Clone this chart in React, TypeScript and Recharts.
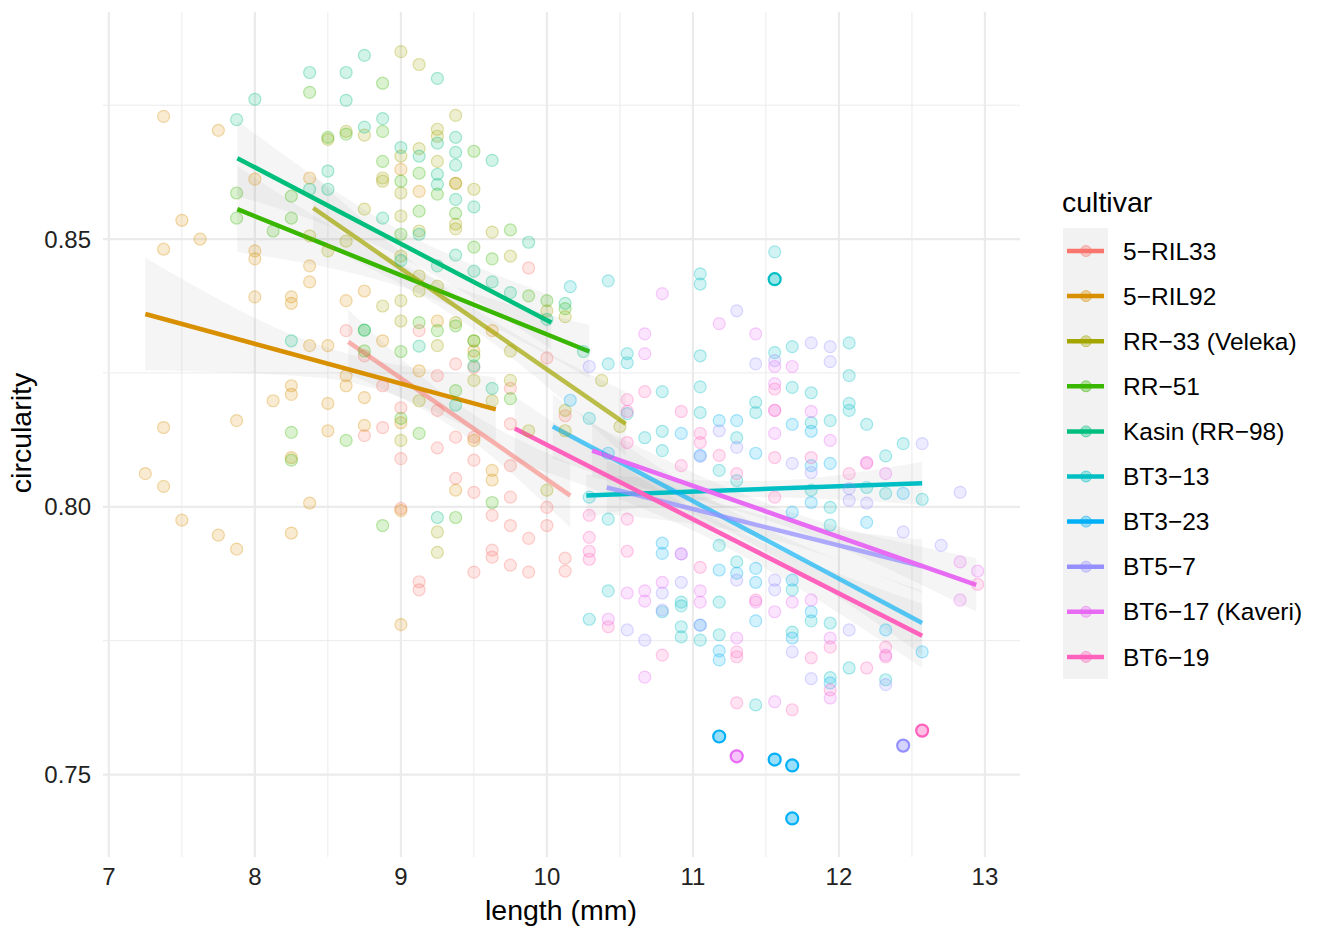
import React from "react";
import { ComposedChart, Scatter, Line, Area, XAxis, YAxis, CartesianGrid } from "recharts";

const cultivars = ["5\u2212RIL33", "5\u2212RIL92", "RR\u221233 (Veleka)", "RR\u221251", "Kasin (RR\u221298)", "BT3\u221213", "BT3\u221223", "BT5\u22127", "BT6\u221217 (Kaveri)", "BT6\u221219"];
const colors = ["#F8766D", "#D89000", "#A3A500", "#39B600", "#00BF7D", "#00BFC4", "#00B0F6", "#9590FF", "#E76BF3", "#FF62BC"];
// how much of each fit line still shows through the later grey bands
const lineFade = [0.55, 1, 0.7, 1, 1, 1, 0.65, 0.75, 1, 1];

const ril33Points = [
  [8.875, 0.8148], [9.0, 0.809], [9.25, 0.811], [9.375, 0.813], [9.375, 0.8053], [9.5, 0.8087], [9.5, 0.8027],
  [9.75, 0.8155], [9.75, 0.8077], [9.75, 0.8018], [9.75, 0.7965], [9.625, 0.7984], [9.625, 0.7919], [9.625, 0.7906],
  [9.75, 0.7891], [9.5, 0.7878], [9.875, 0.7941], [9.875, 0.7878], [10.0, 0.7999], [10.0, 0.7965], [10.125, 0.7904],
  [9.125, 0.786], [9.125, 0.7845], [9.0, 0.7997], [9.875, 0.8446], [10.0, 0.8278], [9.375, 0.8267], [9.5, 0.826],
  [9.75, 0.8221], [9.25, 0.8245], [9.125, 0.8329], [8.625, 0.8329], [8.75, 0.8282], [8.75, 0.8133], [8.875, 0.8226],
  [9.0, 0.8185], [10.125, 0.788], [9.25, 0.818], [10.125, 0.817], [9.5, 0.813],
];
const ril92Points = [
  [7.375, 0.8729], [7.75, 0.8703], [8.0, 0.8612], [7.5, 0.8535], [7.625, 0.85], [7.375, 0.8481], [8.0, 0.8478],
  [8.0, 0.8463], [8.0, 0.8392], [8.25, 0.8392], [8.25, 0.838], [8.375, 0.845], [8.375, 0.842], [8.125, 0.8198],
  [7.875, 0.8161], [7.375, 0.8148], [7.25, 0.8062], [7.375, 0.8038], [7.5, 0.7975], [7.75, 0.7947], [7.875, 0.7921],
  [8.25, 0.7951], [8.375, 0.8007], [8.25, 0.8092], [8.25, 0.8226], [8.25, 0.821], [8.5, 0.8193], [8.5, 0.8142],
  [8.625, 0.8245], [8.625, 0.8226], [8.75, 0.8152], [8.75, 0.8204], [8.875, 0.831], [8.5, 0.8301], [8.375, 0.8301],
  [9.0, 0.863], [9.125, 0.8589], [9.375, 0.8604], [9.25, 0.8347], [9.0, 0.8157], [9.0, 0.7993], [9.0, 0.778],
  [9.375, 0.8031], [9.5, 0.8124], [9.625, 0.8068], [9.625, 0.805], [9.625, 0.8329], [9.5, 0.8291], [9.125, 0.8254],
  [8.75, 0.8403], [8.625, 0.8385], [8.375, 0.8614],
];
const rr33Points = [
  [9.0, 0.885], [9.125, 0.8826], [9.375, 0.8731], [8.5, 0.8686], [8.625, 0.8701], [8.75, 0.8694], [9.25, 0.8705],
  [9.25, 0.8692], [9.0, 0.8655], [9.125, 0.8669], [9.25, 0.8645], [8.875, 0.8614], [8.875, 0.8608], [9.375, 0.8604],
  [9.375, 0.8528], [9.375, 0.8519], [9.5, 0.8593], [9.0, 0.8586], [9.625, 0.8513], [9.75, 0.8468], [8.75, 0.8556],
  [9.0, 0.8543], [9.125, 0.8515], [9.0, 0.8468], [9.125, 0.8431], [9.125, 0.8403], [9.25, 0.8412], [9.0, 0.8385],
  [9.0, 0.8347], [9.375, 0.8344], [9.5, 0.831], [9.5, 0.8236], [9.25, 0.8301], [8.875, 0.8375], [8.625, 0.8496],
  [8.5, 0.8478], [8.375, 0.8506], [9.75, 0.8291], [9.75, 0.8236], [9.875, 0.8142], [10.0, 0.8031], [10.125, 0.818],
  [10.125, 0.8142], [10.375, 0.8236], [10.0, 0.8366], [10.125, 0.8355], [9.625, 0.8198], [9.125, 0.8198],
  [9.0, 0.8124], [9.25, 0.7953], [9.25, 0.7915], [10.5, 0.815],
];
const rr51Points = [
  [8.375, 0.8774], [8.875, 0.8791], [8.875, 0.8701], [8.875, 0.8645], [9.0, 0.8608], [9.125, 0.8623], [9.25, 0.8584],
  [9.375, 0.8548], [9.5, 0.8664], [9.125, 0.8552], [9.5, 0.8485], [9.75, 0.8517], [9.0, 0.8509], [8.25, 0.858],
  [8.25, 0.8539], [8.125, 0.8515], [7.875, 0.8586], [7.875, 0.8539], [8.5, 0.869], [8.625, 0.8696], [8.75, 0.833],
  [8.75, 0.8291], [9.125, 0.8344], [9.25, 0.8329], [9.375, 0.8338], [9.625, 0.8463], [9.875, 0.8394], [10.0, 0.8385],
  [8.25, 0.8139], [8.25, 0.8087], [8.875, 0.7965], [8.625, 0.8124], [9.0, 0.8165], [9.125, 0.8137], [9.375, 0.798],
  [9.625, 0.8008], [9.375, 0.8217], [9.5, 0.8282], [9.75, 0.8202], [9.0, 0.829], [10.125, 0.837], [9.5, 0.831],
];
const kasinPoints = [
  [8.375, 0.8811], [8.625, 0.8811], [8.625, 0.8759], [8.75, 0.8843], [9.25, 0.88], [8.0, 0.8761], [7.875, 0.8723],
  [8.75, 0.8709], [8.875, 0.8725], [9.25, 0.8679], [9.375, 0.869], [9.375, 0.8662], [9.375, 0.8638], [9.625, 0.8647],
  [9.0, 0.8671], [9.125, 0.8655], [9.25, 0.8621], [9.25, 0.8602], [9.375, 0.8574], [9.5, 0.856], [8.875, 0.8539],
  [9.125, 0.8509], [9.875, 0.8494], [8.5, 0.8627], [8.5, 0.8593], [8.375, 0.8593], [9.75, 0.84], [9.5, 0.844],
  [9.375, 0.847], [9.625, 0.842], [9.25, 0.845], [9.0, 0.846], [10.0, 0.835], [10.125, 0.838], [9.125, 0.83],
  [9.375, 0.819], [9.5, 0.8263], [9.625, 0.8221], [9.25, 0.798], [8.75, 0.833], [8.25, 0.831], [10.25, 0.829],
];
const bt313Points = [
  [10.16, 0.8411], [10.42, 0.8422], [11.05, 0.8435], [11.05, 0.8416], [11.56, 0.8476], [10.55, 0.8286], [10.55, 0.8269],
  [10.42, 0.8267], [11.05, 0.8282], [11.56, 0.8288], [10.55, 0.8174], [10.79, 0.8215], [11.05, 0.8224], [11.05, 0.8176],
  [11.43, 0.8195], [11.43, 0.8176], [11.3, 0.8129], [10.79, 0.8141], [10.67, 0.8129], [10.29, 0.8165], [10.29, 0.8018],
  [10.42, 0.7977], [10.79, 0.8105], [11.18, 0.8068], [11.3, 0.8049], [11.68, 0.8299], [12.07, 0.8306], [12.07, 0.8245],
  [11.68, 0.8223], [11.81, 0.8213], [11.81, 0.8157], [11.94, 0.8161], [12.07, 0.8193], [12.07, 0.818], [12.19, 0.8154],
  [12.44, 0.8118], [12.32, 0.8095], [12.19, 0.8036], [12.32, 0.8025], [12.57, 0.8014], [11.81, 0.8031], [11.94, 0.7999],
  [11.94, 0.7966], [10.42, 0.7843], [10.79, 0.7804], [10.92, 0.7822], [10.92, 0.7815], [10.92, 0.7776], [10.92, 0.7757],
  [11.05, 0.7751], [11.18, 0.7822], [11.18, 0.7761], [11.3, 0.7897], [11.18, 0.7928], [11.68, 0.7845], [11.68, 0.7766],
  [11.81, 0.7787], [11.94, 0.7783], [11.94, 0.7681], [12.07, 0.7699], [12.32, 0.7677], [11.43, 0.763], [10.29, 0.779],
];
const bt323Points = [
  [10.92, 0.8137], [11.18, 0.8161], [11.3, 0.8161], [11.43, 0.81], [11.05, 0.8096], [11.68, 0.8154], [11.81, 0.8141],
  [11.81, 0.8077], [11.94, 0.8081], [12.44, 0.8025], [11.81, 0.8008], [11.68, 0.799], [12.19, 0.7971], [10.79, 0.7932],
  [10.79, 0.7913], [11.18, 0.7882], [11.3, 0.7876], [11.43, 0.7885], [11.43, 0.7859], [11.05, 0.7779], [11.18, 0.7731],
  [11.18, 0.7714], [11.43, 0.7787], [11.68, 0.7863], [11.68, 0.7755], [11.81, 0.7804], [11.94, 0.7671], [12.32, 0.777],
  [12.57, 0.7729], [10.16, 0.8199], [10.42, 0.81],
];
const bt57Points = [
  [10.29, 0.8262], [11.43, 0.8267], [11.3, 0.8366], [11.56, 0.8273], [11.18, 0.8142], [11.3, 0.8111], [11.05, 0.8094],
  [11.94, 0.8299], [11.94, 0.8271], [11.81, 0.8306], [12.57, 0.8118], [12.07, 0.8034], [12.07, 0.8012], [12.19, 0.8007],
  [12.44, 0.7953], [12.83, 0.8027], [11.68, 0.8081], [11.81, 0.8064], [10.92, 0.7912], [11.3, 0.7863], [10.79, 0.7839],
  [10.92, 0.7859], [10.67, 0.7751], [10.55, 0.777], [11.56, 0.7863], [11.56, 0.7845], [11.68, 0.7729], [11.81, 0.7679],
  [12.07, 0.777], [12.32, 0.7668], [12.7, 0.7928], [11.05, 0.7779], [10.79, 0.7807],
];
const bt617Points = [
  [10.79, 0.8398], [10.67, 0.8323], [10.67, 0.8286], [11.18, 0.8342], [11.43, 0.8323], [11.56, 0.8262], [11.68, 0.8262],
  [11.56, 0.823], [11.81, 0.8178], [11.56, 0.818], [11.94, 0.8124], [11.56, 0.8137], [12.19, 0.8083], [12.32, 0.8062],
  [12.83, 0.7826], [12.95, 0.788], [12.83, 0.7897], [10.42, 0.779], [10.55, 0.7839], [10.67, 0.7843], [10.67, 0.7824],
  [10.79, 0.7859], [10.92, 0.7912], [11.05, 0.7843], [11.05, 0.7822], [11.43, 0.7822], [11.56, 0.7804], [11.68, 0.7822],
  [11.81, 0.7826], [11.94, 0.7755], [11.94, 0.7643], [11.56, 0.7636], [10.67, 0.7682], [11.3, 0.7755], [12.32, 0.7723],
];
const bt619Points = [
  [10.55, 0.82], [10.55, 0.8178], [10.67, 0.8215], [10.92, 0.8178], [11.05, 0.8137], [11.05, 0.812], [11.18, 0.8096],
  [10.55, 0.812], [10.92, 0.8077], [11.3, 0.8062], [11.56, 0.822], [11.56, 0.818], [11.56, 0.8092], [11.81, 0.8092],
  [12.07, 0.8062], [12.19, 0.8081], [11.56, 0.8018], [10.29, 0.7984], [10.55, 0.7977], [10.29, 0.7943], [10.29, 0.7917],
  [10.29, 0.7902], [10.55, 0.7917], [11.05, 0.7887], [11.3, 0.772], [11.3, 0.7729], [11.43, 0.7826], [11.81, 0.7718],
  [11.94, 0.7738], [11.94, 0.7658], [12.32, 0.7738], [12.32, 0.772], [11.3, 0.7634], [11.68, 0.7621], [10.79, 0.7723],
  [12.19, 0.7699], [10.42, 0.7776], [12.95, 0.7855],
];
const pointGroups = [ril33Points, ril92Points, rr33Points, rr51Points, kasinPoints, bt313Points, bt323Points, bt57Points, bt617Points, bt619Points];

// points drawn solid in the reference: [cultivar index, length, circularity]
const solidPoints = [
  [5, 11.56, 0.8425], [6, 11.18, 0.7571], [6, 11.56, 0.7528], [6, 11.68, 0.7517], [6, 11.68, 0.7418],
  [8, 11.3, 0.7534], [7, 12.44, 0.7554], [9, 12.57, 0.7582],
];

// linear fits: [x start, y start, x end, y end]
const trendLines = [
  [8.64, 0.8308, 10.16, 0.8021], [7.25, 0.836, 9.65, 0.8182], [8.4, 0.8558, 10.54, 0.8155], [7.88, 0.8556, 10.29, 0.829],
  [7.88, 0.8651, 10.03, 0.8344], [10.27, 0.8021, 12.57, 0.8044], [10.04, 0.815, 12.57, 0.7783], [10.41, 0.8036, 12.57, 0.7889],
  [10.31, 0.8105, 12.94, 0.7854], [9.78, 0.8146, 12.57, 0.7759],
];
// confidence bands: [x, lower, upper]
const bands = [
  [[8.64, 0.8248, 0.8368], [9.4, 0.814, 0.819], [10.16, 0.7961, 0.8081]],
  [[7.25, 0.8255, 0.8465], [8.45, 0.8241, 0.8301], [9.65, 0.8122, 0.8242]],
  [[8.4, 0.8498, 0.8618], [9.47, 0.8337, 0.8377], [10.54, 0.8095, 0.8215]],
  [[7.88, 0.8476, 0.8636], [9.08, 0.8403, 0.8443], [10.29, 0.824, 0.834]],
  [[7.88, 0.8581, 0.8721], [8.95, 0.8473, 0.8523], [10.03, 0.8294, 0.8394]],
  [[10.27, 0.7981, 0.8061], [11.42, 0.8018, 0.8048], [12.57, 0.8004, 0.8084]],
  [[10.04, 0.809, 0.821], [11.3, 0.7947, 0.7987], [12.57, 0.7723, 0.7843]],
  [[10.41, 0.7986, 0.8086], [11.49, 0.7943, 0.7983], [12.57, 0.7839, 0.7939]],
  [[10.31, 0.8055, 0.8155], [11.62, 0.7965, 0.7995], [12.94, 0.7804, 0.7904]],
  [[9.78, 0.8086, 0.8206], [11.17, 0.7933, 0.7973], [12.57, 0.7699, 0.7819]],
];

const xTicks = [7, 8, 9, 10, 11, 12, 13];
const xMinor = [7.5, 8.5, 9.5, 10.5, 11.5, 12.5];
const yTicks = [0.75, 0.8, 0.85];
const yMinor = [0.775, 0.825, 0.875];

const FONT = "'Liberation Sans', Arial, Helvetica, sans-serif";

function makeDot(color: string, solid: boolean) {
  return (props: any) => (
    <circle
      cx={props.cx}
      cy={props.cy}
      r={6}
      fill={color}
      fillOpacity={solid ? 0.4 : 0.18}
      stroke={color}
      strokeOpacity={solid ? 1 : 0.32}
      strokeWidth={solid ? 2.2 : 1.2}
    />
  );
}

export default function App() {
  const scatterData = pointGroups.map(g => g.map(([x, y]) => ({ x, y })));
  const solidData = cultivars.map((_, i) =>
    solidPoints.filter(p => p[0] === i).map(p => ({ x: p[1], y: p[2] }))
  );

  return (
    <div style={{ position: "absolute", left: 0, top: 0, width: 1319, height: 927, background: "#fff", fontFamily: FONT }}>
      <ComposedChart width={1020} height={927} margin={{ top: 12, right: 0, bottom: 0, left: 0 }}>
        <CartesianGrid verticalValues={xMinor} horizontalValues={yMinor} stroke="#EBEBEB" strokeWidth={1} />
        <CartesianGrid verticalValues={xTicks} horizontalValues={yTicks} stroke="#EBEBEB" strokeWidth={2.2} />
        <XAxis
          type="number"
          dataKey="x"
          domain={[6.96, 13.24]}
          allowDataOverflow
          ticks={xTicks}
          height={70}
          axisLine={false}
          tickLine={false}
          tickSize={0}
          tickMargin={11}
          tick={{ fontSize: 24, fill: "#222", fontFamily: FONT }}
        />
        <YAxis
          type="number"
          dataKey="y"
          domain={[0.7346, 0.8924]}
          allowDataOverflow
          ticks={yTicks}
          width={103}
          axisLine={false}
          tickLine={false}
          tickSize={0}
          tickMargin={12}
          tickFormatter={(v: number) => v.toFixed(2)}
          tick={{ fontSize: 24, fill: "#222", fontFamily: FONT }}
        />
        {scatterData.map((d, i) => (
          <Scatter key={"s" + i} data={d} dataKey="y" shape={makeDot(colors[i], false)} isAnimationActive={false} />
        ))}
        {solidData.map((d, i) =>
          d.length ? (
            <Scatter key={"o" + i} data={d} dataKey="y" shape={makeDot(colors[i], true)} isAnimationActive={false} />
          ) : null
        )}
        {bands.map((b, i) => (
          <Area
            key={"b" + i}
            data={b.map(([x, lo, hi]) => ({ x, range: [lo, hi] }))}
            dataKey="range"
            type="monotone"
            stroke="none"
            fill="#999999"
            fillOpacity={0.1}
            isAnimationActive={false}
          />
        ))}
        {trendLines.map(([x0, y0, x1, y1], i) => (
          <Line
            key={"l" + i}
            data={[{ x: x0, y: y0 }, { x: x1, y: y1 }]}
            dataKey="y"
            type="linear"
            stroke={colors[i]}
            strokeWidth={4.5}
            strokeOpacity={lineFade[i]}
            dot={false}
            activeDot={false}
            isAnimationActive={false}
          />
        ))}
      </ComposedChart>

      <svg width={1319} height={927} style={{ position: "absolute", left: 0, top: 0, pointerEvents: "none" }}>
        <text x={561} y={920} textAnchor="middle" fontSize={28.5} fill="#000" fontFamily={FONT}>length (mm)</text>
        <text transform="translate(31,433) rotate(-90)" textAnchor="middle" fontSize={28.5} fill="#000" fontFamily={FONT}>circularity</text>
        <text x={1062} y={212} fontSize={28.5} fill="#000" fontFamily={FONT}>cultivar</text>
        <rect x={1063} y={228} width={45} height={cultivars.length * 45.1} fill="#F2F2F2" />
        {cultivars.map((name, i) => {
          const cy = 251 + i * 45.1;
          return (
            <g key={name}>
              <line x1={1067} x2={1104} y1={cy} y2={cy} stroke={colors[i]} strokeWidth={4.5} />
              <circle cx={1086} cy={cy} r={5.5} fill={colors[i]} fillOpacity={0.35} stroke={colors[i]} strokeOpacity={0.5} />
              <text x={1123} y={cy + 8.6} fontSize={24.5} fill="#000" fontFamily={FONT}>{name}</text>
            </g>
          );
        })}
      </svg>
    </div>
  );
}
